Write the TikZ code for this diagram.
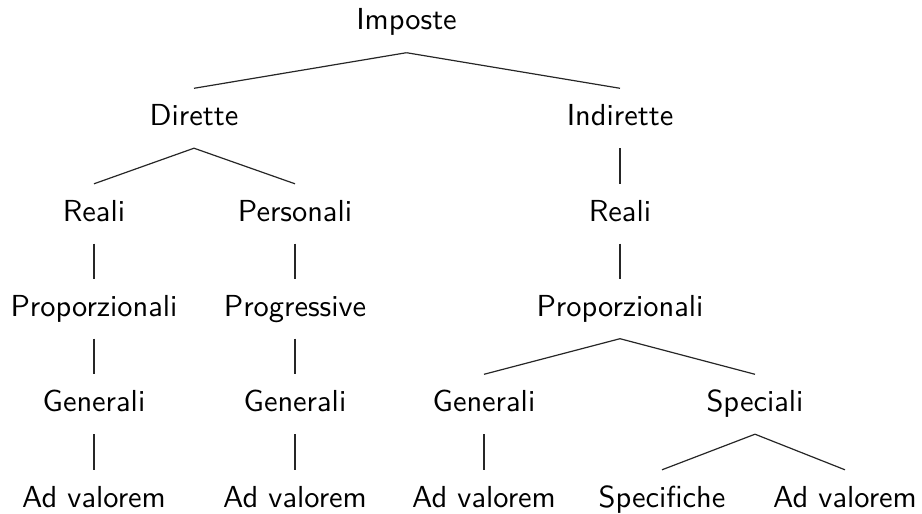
\documentclass[tikz,border=0pt]{standalone}
\tikzset{
  lbl/.style={anchor=base, inner sep=0pt, text height=37pt, text depth=22.5pt, font=\sffamily},
  edgeline/.style={line width=1.2pt, draw=black!85}
}
\newcommand{\lt}[1]{\scalebox{3.04}{#1}}
\begin{document}
\begin{tikzpicture}[x=1pt, y=-1pt]
\useasboundingbox (0,0) rectangle (922,514);
% level 0
\node[lbl] (imp) at (406.5,30) {\lt{Imposte}};
% level 1
\node[lbl] (dir) at (194,125.5) {\lt{Dirette}};
\node[lbl] (ind) at (620,125.5) {\lt{Indirette}};
% level 2
\node[lbl] (realiL) at (94,221) {\lt{Reali}};
\node[lbl] (pers) at (295,221) {\lt{Personali}};
\node[lbl] (realiR) at (620,221) {\lt{Reali}};
% level 3
\node[lbl] (propL) at (94,316) {\lt{Proporzionali}};
\node[lbl] (prog) at (295,316) {\lt{Progressive}};
\node[lbl] (propR) at (620,316) {\lt{Proporzionali}};
% level 4
\node[lbl] (genA) at (94,411.5) {\lt{Generali}};
\node[lbl] (genB) at (295,411.5) {\lt{Generali}};
\node[lbl] (genC) at (484,411.5) {\lt{Generali}};
\node[lbl] (spec) at (755,411.5) {\lt{Speciali}};
% level 5
\node[lbl] (avA) at (94,507) {\lt{Ad valorem}};
\node[lbl] (avB) at (295,507) {\lt{Ad valorem}};
\node[lbl] (avC) at (484,507) {\lt{Ad valorem}};
\node[lbl] (specif) at (662,507) {\lt{Specifiche}};
\node[lbl] (avD) at (845,507) {\lt{Ad valorem}};
% edges
\draw[edgeline] (imp.south) -- (dir.north);
\draw[edgeline] (imp.south) -- (ind.north);
\draw[edgeline] (dir.south) -- (realiL.north);
\draw[edgeline] (dir.south) -- (pers.north);
\draw[edgeline] (ind.south) -- (realiR.north);
\draw[edgeline] (realiL.south) -- (propL.north);
\draw[edgeline] (pers.south) -- (prog.north);
\draw[edgeline] (realiR.south) -- (propR.north);
\draw[edgeline] (propL.south) -- (genA.north);
\draw[edgeline] (prog.south) -- (genB.north);
\draw[edgeline] (propR.south) -- (genC.north);
\draw[edgeline] (propR.south) -- (spec.north);
\draw[edgeline] (genA.south) -- (avA.north);
\draw[edgeline] (genB.south) -- (avB.north);
\draw[edgeline] (genC.south) -- (avC.north);
\draw[edgeline] (spec.south) -- (specif.north);
\draw[edgeline] (spec.south) -- (avD.north);
\end{tikzpicture}
\end{document}
